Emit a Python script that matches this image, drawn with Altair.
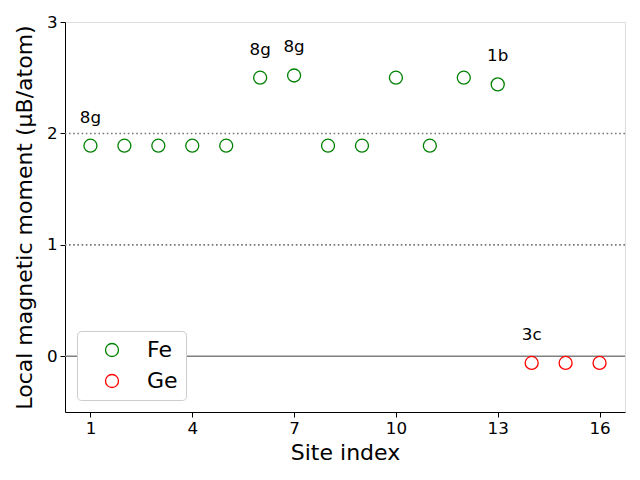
import altair as alt
import pandas as pd

# Data
fe_sites = [1, 2, 3, 4, 5, 6, 7, 8, 9, 10, 11, 12, 13]
fe_moment = [1.89, 1.89, 1.89, 1.89, 1.89, 2.50, 2.52, 1.89, 1.89, 2.50, 1.89, 2.50, 2.44]
ge_sites = [14, 15, 16]
ge_moment = [-0.06, -0.06, -0.06]

label_sites = [1, 6, 7, 13, 14]
label_moment = [1.89, 2.50, 2.52, 2.44, -0.06]
label_text = ["8g", "8g", "8g", "1b", "3c"]

dotted_levels = [1, 2]
solid_levels = [0]

x_ticks = [1, 4, 7, 10, 13, 16]
y_ticks = [0, 1, 2, 3]

FONT = "DejaVu Sans"

points = pd.DataFrame({
    "site": fe_sites + ge_sites,
    "moment": fe_moment + ge_moment,
    "element": ["Fe"] * len(fe_sites) + ["Ge"] * len(ge_sites),
})
labels = pd.DataFrame({"site": label_sites, "moment": label_moment, "text": label_text})
dotted = pd.DataFrame({"y": dotted_levels})
solid = pd.DataFrame({"y": solid_levels})

xscale = alt.Scale(domain=[0.25, 16.75], nice=False, zero=False)
yscale = alt.Scale(domain=[-0.5, 3], nice=False, zero=False)

xaxis = alt.Axis(values=x_ticks, title="Site index", grid=False, labelFontSize=16.7,
                 titleFontSize=22, titleFontWeight="normal", tickSize=5, labelPadding=3,
                 titlePadding=6, domainColor="black", tickColor="black", labelColor="black",
                 titleColor="black", labelFont=FONT, titleFont=FONT, labelFlush=False)
yaxis = alt.Axis(values=y_ticks, title="Local magnetic moment (μB/atom)", grid=False,
                 labelFontSize=16.7, titleFontSize=22, titleFontWeight="normal", tickSize=5,
                 labelPadding=3, titlePadding=10, domainColor="black", tickColor="black",
                 labelColor="black", titleColor="black", labelFont=FONT, titleFont=FONT,
                 format="d", labelFlush=False)

dot_lines = alt.Chart(dotted).mark_rule(color="#777777", strokeWidth=1.6, strokeDash=[1.6, 2.6]).encode(
    y=alt.Y("y:Q", scale=yscale, axis=yaxis)
)
zero_line = alt.Chart(solid).mark_rule(color="#808080", strokeWidth=1.6).encode(
    y=alt.Y("y:Q", scale=yscale)
)

pts = alt.Chart(points).mark_point(shape="circle", filled=False, size=169, strokeWidth=1.3, opacity=1).encode(
    x=alt.X("site:Q", scale=xscale, axis=xaxis),
    y=alt.Y("moment:Q", scale=yscale, axis=yaxis),
    color=alt.Color("element:N", scale=alt.Scale(domain=["Fe", "Ge"], range=["green", "red"]),
                    legend=alt.Legend(title=None, orient="none", legendX=12, legendY=309,
                                      labelFontSize=22, labelFont=FONT, labelColor="black",
                                      symbolSize=169, symbolStrokeWidth=1.3, symbolType="circle",
                                      symbolFillColor="transparent",
                                      padding=8, rowPadding=9, symbolOffset=16, labelOffset=24,
                                      strokeColor="#cccccc", fillColor="white",
                                      cornerRadius=4)),
)

txt = alt.Chart(labels).mark_text(fontSize=16.7, font=FONT, color="black", dy=-28, baseline="middle").encode(
    x=alt.X("site:Q", scale=xscale),
    y=alt.Y("moment:Q", scale=yscale),
    text="text:N",
)

chart = alt.layer(dot_lines, zero_line, pts, txt).properties(
    width=560, height=390,
    autosize=alt.AutoSizeParams(type="none"),
    padding={"left": 57, "top": 14, "right": 7, "bottom": 60},
).configure_view(stroke="black", strokeWidth=1).configure(background="white")

chart.save("out.html", embed_options={"renderer": "svg", "actions": False})
